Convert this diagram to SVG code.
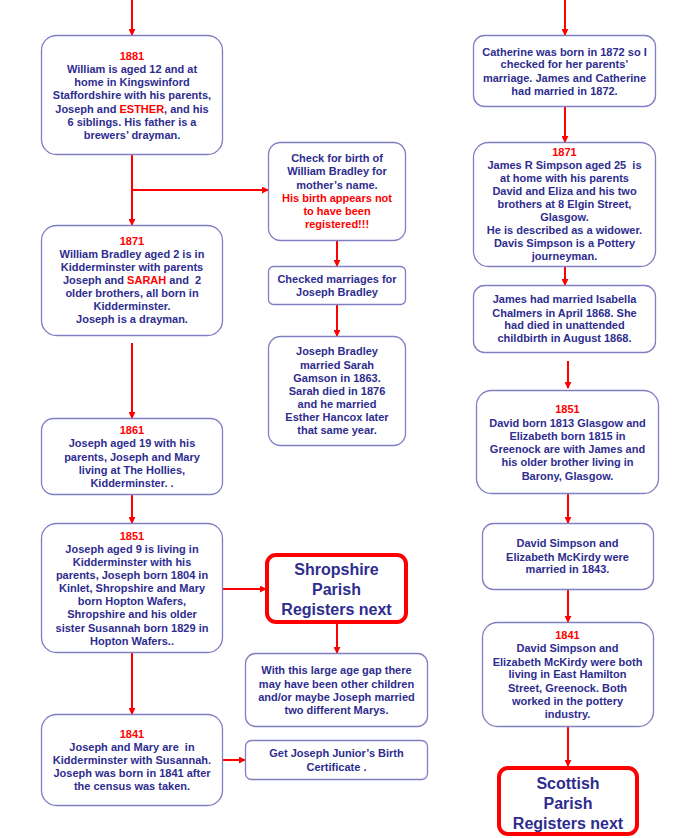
<svg xmlns="http://www.w3.org/2000/svg" width="700" height="838" viewBox="0 0 700 838">
<defs>
<marker id="ah" viewBox="0 0 8 8" refX="7" refY="4" markerWidth="3.5" markerHeight="3.5" orient="auto" markerUnits="strokeWidth">
<path d="M0,0 L8,4 L0,8 z" fill="#ff0000"/>
</marker>
<style>
.box{fill:#ffffff;stroke:#7f7fc2;stroke-width:1.3}
.big{fill:#ffffff;stroke:#ff0000;stroke-width:4}
.t{font-family:"Liberation Sans",Arial,sans-serif;font-size:11px;font-weight:bold;fill:#2e2d8f;text-anchor:middle;white-space:pre}
.tb{font-family:"Liberation Sans",Arial,sans-serif;font-size:16px;font-weight:bold;fill:#2e2d8f;text-anchor:middle}
.r{fill:#ff0000}
.c{stroke:#ff0000;stroke-width:2;fill:none;marker-end:url(#ah)}
</style>
</defs>
<rect width="700" height="838" fill="#ffffff"/>
<g id="connectors">
<line class="c" x1="132" y1="0" x2="132" y2="35"/>
<line class="c" x1="132" y1="155" x2="132" y2="225"/>
<line class="c" x1="132" y1="190" x2="268" y2="190"/>
<line class="c" x1="132" y1="343" x2="132" y2="418"/>
<line class="c" x1="132" y1="495" x2="132" y2="523"/>
<line class="c" x1="223" y1="589" x2="266" y2="589"/>
<line class="c" x1="132" y1="653" x2="132" y2="714"/>
<line class="c" x1="223" y1="760" x2="245" y2="760"/>
<line class="c" x1="337" y1="240" x2="337" y2="266"/>
<line class="c" x1="337" y1="305" x2="337" y2="336"/>
<line class="c" x1="337" y1="624" x2="337" y2="653"/>
<line class="c" x1="565" y1="0" x2="565" y2="35"/>
<line class="c" x1="565" y1="107" x2="565" y2="142"/>
<line class="c" x1="565" y1="267" x2="565" y2="285"/>
<line class="c" x1="568" y1="361" x2="568" y2="388"/>
<line class="c" x1="568" y1="494" x2="568" y2="523"/>
<line class="c" x1="568" y1="590" x2="568" y2="622"/>
<line class="c" x1="568" y1="727" x2="568" y2="766"/>
</g>
<g id="n1881">
<rect class="box" x="41.5" y="35.5" width="181" height="119" rx="15"/>
<text class="t"><tspan class="r" x="132" y="59.5">1881</tspan><tspan x="132" y="73">William is aged 12 and at</tspan><tspan x="132" y="86">home in Kingswinford</tspan><tspan x="132" y="99">Staffordshire with his parents,</tspan><tspan x="132" y="112.5">Joseph and <tspan class="r">ESTHER</tspan>, and his</tspan><tspan x="132" y="125.5">6 siblings. His father is a</tspan><tspan x="132" y="139">brewers’ drayman.</tspan></text>
</g>
<g id="n1871a">
<rect class="box" x="41.5" y="225.5" width="181" height="110" rx="15"/>
<text class="t"><tspan class="r" x="132" y="245">1871</tspan><tspan x="132" y="258">William Bradley aged 2 is in</tspan><tspan x="132" y="271">Kidderminster with parents</tspan><tspan x="132" y="284">Joseph and <tspan class="r">SARAH</tspan> and  2</tspan><tspan x="132" y="297">older brothers, all born in</tspan><tspan x="132" y="310">Kidderminster.</tspan><tspan x="132" y="323">Joseph is a drayman.</tspan></text>
</g>
<g id="n1861">
<rect class="box" x="41.5" y="418.5" width="181" height="76" rx="12"/>
<text class="t"><tspan class="r" x="132" y="434">1861</tspan><tspan x="132" y="447">Joseph aged 19 with his</tspan><tspan x="132" y="460.5">parents, Joseph and Mary</tspan><tspan x="132" y="474">living at The Hollies,</tspan><tspan x="132" y="487">Kidderminster. .</tspan></text>
</g>
<g id="n1851a">
<rect class="box" x="41.5" y="523.5" width="181" height="129" rx="15"/>
<text class="t"><tspan class="r" x="132" y="539.5">1851</tspan><tspan x="132" y="553">Joseph aged 9 is living in</tspan><tspan x="132" y="566">Kidderminster with his</tspan><tspan x="132" y="579">parents, Joseph born 1804 in</tspan><tspan x="132" y="592">Kinlet, Shropshire and Mary</tspan><tspan x="132" y="605">born Hopton Wafers,</tspan><tspan x="132" y="618">Shropshire and his older</tspan><tspan x="132" y="631.5">sister Susannah born 1829 in</tspan><tspan x="132" y="644.5">Hopton Wafers..</tspan></text>
</g>
<g id="n1841a">
<rect class="box" x="41.5" y="714.5" width="181" height="91" rx="15"/>
<text class="t"><tspan class="r" x="132" y="738">1841</tspan><tspan x="132" y="751">Joseph and Mary are  in</tspan><tspan x="132" y="764">Kidderminster with Susannah.</tspan><tspan x="132" y="777">Joseph was born in 1841 after</tspan><tspan x="132" y="790">the census was taken.</tspan></text>
</g>
<g id="nCheck">
<rect class="box" x="268.5" y="142.5" width="137" height="98" rx="12"/>
<text class="t"><tspan x="337" y="161.5">Check for birth of</tspan><tspan x="337" y="175">William Bradley for</tspan><tspan x="337" y="189">mother’s name.</tspan><tspan class="r" x="337" y="202">His birth appears not</tspan><tspan class="r" x="337" y="215">to have been</tspan><tspan class="r" x="337" y="228">registered!!!</tspan></text>
</g>
<g id="nChecked">
<rect class="box" x="268.5" y="266.5" width="137" height="38" rx="5"/>
<text class="t"><tspan x="337" y="283">Checked marriages for</tspan><tspan x="337" y="296">Joseph Bradley</tspan></text>
</g>
<g id="nJB">
<rect class="box" x="268.5" y="336.5" width="137" height="109" rx="12"/>
<text class="t"><tspan x="337" y="355">Joseph Bradley</tspan><tspan x="337" y="368.5">married Sarah</tspan><tspan x="337" y="381.5">Gamson in 1863.</tspan><tspan x="337" y="394.5">Sarah died in 1876</tspan><tspan x="337" y="408">and he married</tspan><tspan x="337" y="421">Esther Hancox later</tspan><tspan x="337" y="434">that same year.</tspan></text>
</g>
<g id="nShrop">
<rect class="big" x="267" y="555" width="139" height="67" rx="9"/>
<text class="tb"><tspan x="336.5" y="575">Shropshire</tspan><tspan x="336.5" y="595">Parish</tspan><tspan x="336.5" y="615">Registers next</tspan></text>
</g>
<g id="nGap">
<rect class="box" x="245.5" y="653.5" width="182" height="73" rx="10"/>
<text class="t"><tspan x="336.5" y="674">With this large age gap there</tspan><tspan x="336.5" y="687.5">may have been other children</tspan><tspan x="336.5" y="700.5">and/or maybe Joseph married</tspan><tspan x="336.5" y="714">two different Marys.</tspan></text>
</g>
<g id="nGet">
<rect class="box" x="245.5" y="740.5" width="182" height="39" rx="6"/>
<text class="t"><tspan x="336.5" y="756.5">Get Joseph Junior’s Birth</tspan><tspan x="336.5" y="770.5">Certificate .</tspan></text>
</g>
<g id="nCath">
<rect class="box" x="473.5" y="35.5" width="182" height="71" rx="11"/>
<text class="t"><tspan x="564.5" y="55.5">Catherine was born in 1872 so I</tspan><tspan x="564.5" y="68">checked for her parents’</tspan><tspan x="564.5" y="81.5">marriage. James and Catherine</tspan><tspan x="564.5" y="94.5">had married in 1872.</tspan></text>
</g>
<g id="n1871b">
<rect class="box" x="473.5" y="142.5" width="182" height="124" rx="15"/>
<text class="t"><tspan class="r" x="564.5" y="155.5">1871</tspan><tspan x="564.5" y="169">James R Simpson aged 25  is</tspan><tspan x="564.5" y="182">at home with his parents</tspan><tspan x="564.5" y="195">David and Eliza and his two</tspan><tspan x="564.5" y="208">brothers at 8 Elgin Street,</tspan><tspan x="564.5" y="221">Glasgow.</tspan><tspan x="564.5" y="234">He is described as a widower.</tspan><tspan x="564.5" y="247">Davis Simpson is a Pottery</tspan><tspan x="564.5" y="260">journeyman.</tspan></text>
</g>
<g id="nIsab">
<rect class="box" x="473.5" y="285.5" width="182" height="67" rx="11"/>
<text class="t"><tspan x="564.5" y="303">James had married Isabella</tspan><tspan x="564.5" y="316.5">Chalmers in April 1868. She</tspan><tspan x="564.5" y="329">had died in unattended</tspan><tspan x="564.5" y="342">childbirth in August 1868.</tspan></text>
</g>
<g id="n1851b">
<rect class="box" x="476.5" y="390.5" width="182" height="103" rx="15"/>
<text class="t"><tspan class="r" x="567.5" y="413">1851</tspan><tspan x="567.5" y="426.5">David born 1813 Glasgow and</tspan><tspan x="567.5" y="439.5">Elizabeth born 1815 in</tspan><tspan x="567.5" y="453">Greenock are with James and</tspan><tspan x="567.5" y="466">his older brother living in</tspan><tspan x="567.5" y="479.5">Barony, Glasgow.</tspan></text>
</g>
<g id="nMarried">
<rect class="box" x="482.5" y="523.5" width="171" height="66" rx="11"/>
<text class="t"><tspan x="567.5" y="547">David Simpson and</tspan><tspan x="567.5" y="560.5">Elizabeth McKirdy were</tspan><tspan x="567.5" y="573">married in 1843.</tspan></text>
</g>
<g id="n1841b">
<rect class="box" x="482.5" y="622.5" width="171" height="104" rx="15"/>
<text class="t"><tspan class="r" x="567.5" y="639">1841</tspan><tspan x="567.5" y="652">David Simpson and</tspan><tspan x="567.5" y="665.5">Elizabeth McKirdy were both</tspan><tspan x="567.5" y="678">living in East Hamilton</tspan><tspan x="567.5" y="691.5">Street, Greenock. Both</tspan><tspan x="567.5" y="705">worked in the pottery</tspan><tspan x="567.5" y="718">industry.</tspan></text>
</g>
<g id="nScot">
<rect class="big" x="499" y="768" width="138" height="66" rx="9"/>
<text class="tb"><tspan x="568" y="789">Scottish</tspan><tspan x="568" y="809">Parish</tspan><tspan x="568" y="829">Registers next</tspan></text>
</g>
</svg>
